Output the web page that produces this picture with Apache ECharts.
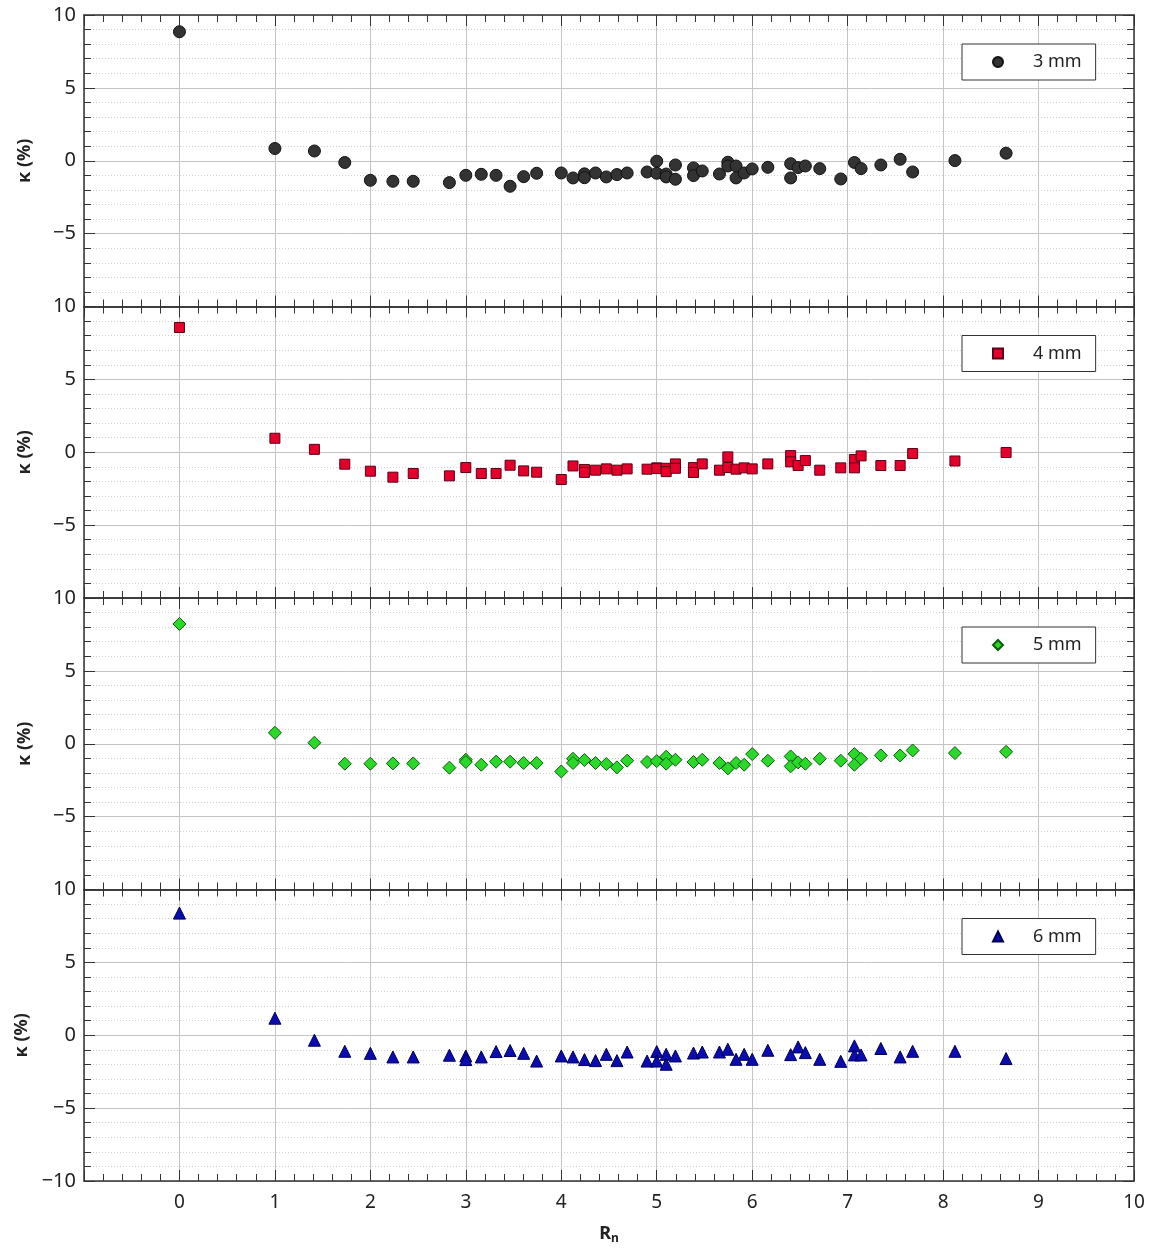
<!DOCTYPE html>
<html>
<head>
<meta charset="utf-8">
<script src="https://cdn.jsdelivr.net/npm/echarts@6/dist/echarts.min.js"></script>
<style>html,body{margin:0;background:#fff}#chart{width:1154px;height:1248px}</style>
</head>
<body>
<div id="chart"></div>
<script>
// κ (%) against R_n, one panel per size
const names = ['3 mm', '4 mm', '5 mm', '6 mm'];

const k3mm = [[0,8.85],[1,0.84],[1.414,0.67],[1.732,-0.12],[2,-1.34],[2.236,-1.41],[2.449,-1.41],[2.828,-1.5],[3,-1.0],[3.162,-0.93],[3.317,-1.0],[3.464,-1.75],[3.606,-1.09],[3.742,-0.86],[4,-0.84],[4.123,-1.18],[4.243,-0.9],[4.243,-1.16],[4.359,-0.84],[4.472,-1.11],[4.583,-0.95],[4.69,-0.84],[4.899,-0.77],[5,-0.03],[5,-0.86],[5.099,-0.91],[5.099,-1.11],[5.196,-0.29],[5.196,-1.27],[5.385,-0.49],[5.385,-1.02],[5.477,-0.7],[5.657,-0.91],[5.745,-0.1],[5.745,-0.36],[5.831,-0.36],[5.831,-1.18],[5.916,-0.84],[6,-0.56],[6.164,-0.45],[6.403,-0.2],[6.403,-1.18],[6.481,-0.47],[6.557,-0.36],[6.708,-0.54],[6.928,-1.25],[7.071,-0.12],[7.141,-0.54],[7.348,-0.29],[7.55,0.1],[7.681,-0.77],[8.124,0.01],[8.66,0.52]];

const k4mm = [[0,8.56],[1,0.96],[1.414,0.2],[1.732,-0.82],[2,-1.3],[2.236,-1.71],[2.449,-1.46],[2.828,-1.62],[3,-1.05],[3.162,-1.46],[3.317,-1.46],[3.464,-0.89],[3.606,-1.28],[3.742,-1.37],[4,-1.87],[4.123,-0.94],[4.243,-1.18],[4.243,-1.38],[4.359,-1.23],[4.472,-1.14],[4.583,-1.23],[4.69,-1.14],[4.899,-1.16],[5,-1.07],[5,-1.12],[5.099,-1.1],[5.099,-1.33],[5.196,-0.8],[5.196,-1.1],[5.385,-1.05],[5.385,-1.39],[5.477,-0.8],[5.657,-1.23],[5.745,-0.32],[5.745,-1.05],[5.831,-1.16],[5.916,-1.07],[6,-1.14],[6.164,-0.8],[6.403,-0.23],[6.403,-0.66],[6.481,-0.91],[6.557,-0.57],[6.708,-1.23],[6.928,-1.07],[7.071,-0.5],[7.071,-1.07],[7.141,-0.25],[7.348,-0.91],[7.55,-0.91],[7.681,-0.09],[8.124,-0.6],[8.66,-0.02]];

const k5mm = [[0,8.22],[1,0.75],[1.414,0.07],[1.732,-1.37],[2,-1.37],[2.236,-1.35],[2.449,-1.35],[2.828,-1.64],[3,-1.1],[3,-1.25],[3.162,-1.44],[3.317,-1.23],[3.464,-1.23],[3.606,-1.32],[3.742,-1.32],[4,-1.9],[4.123,-1.03],[4.123,-1.32],[4.243,-1.12],[4.359,-1.32],[4.472,-1.39],[4.583,-1.62],[4.69,-1.16],[4.899,-1.25],[5,-1.19],[5.099,-0.89],[5.099,-1.37],[5.196,-1.1],[5.385,-1.25],[5.477,-1.1],[5.657,-1.32],[5.745,-1.69],[5.831,-1.32],[5.916,-1.44],[6,-0.71],[6.164,-1.16],[6.403,-0.87],[6.403,-1.55],[6.481,-1.28],[6.557,-1.37],[6.708,-1.03],[6.928,-1.16],[7.071,-0.71],[7.071,-1.44],[7.141,-1.03],[7.348,-0.8],[7.55,-0.8],[7.681,-0.46],[8.124,-0.64],[8.66,-0.55]];

const k6mm = [[0,8.38],[1,1.17],[1.414,-0.34],[1.732,-1.1],[2,-1.24],[2.236,-1.49],[2.449,-1.49],[2.828,-1.37],[3,-1.42],[3,-1.67],[3.162,-1.49],[3.317,-1.12],[3.464,-1.05],[3.606,-1.24],[3.742,-1.77],[4,-1.42],[4.123,-1.49],[4.243,-1.67],[4.359,-1.74],[4.472,-1.31],[4.583,-1.74],[4.69,-1.15],[4.899,-1.77],[5,-1.12],[5,-1.77],[5.099,-1.31],[5.099,-1.99],[5.196,-1.42],[5.385,-1.22],[5.477,-1.15],[5.657,-1.15],[5.745,-0.96],[5.831,-1.65],[5.916,-1.31],[6,-1.65],[6.164,-1.03],[6.403,-1.33],[6.481,-0.8],[6.557,-1.19],[6.708,-1.65],[6.928,-1.79],[7.071,-0.73],[7.071,-1.35],[7.141,-1.35],[7.348,-0.91],[7.55,-1.49],[7.681,-1.1],[8.124,-1.1],[8.66,-1.6]];

const allData = [k3mm, k4mm, k5mm, k6mm];
const symbols = ['circle', 'rect', 'diamond', 'triangle'];
const sizes   = [12, 10, 13, 12];
const colors  = ['#333333', '#e4002b', '#2ad82a', '#0b0bb2'];
const borders = ['#111111', '#5a0018', '#0b5e0b', '#00004d'];

const tops = [15, 306.5, 598, 889.5];
const panelH = 291.5;
const font = 'Noto Sans';
const axisCol = '#333';

function fmt(v) { return v < 0 ? '\u2212' + Math.abs(v) : String(v); }

let grids = [], xAxes = [], yAxes = [], series = [], legends = [];

tops.forEach(function (t, i) {
    const last = i === tops.length - 1;
    grids.push({left: 84, right: 20, top: t, height: panelH, outerBoundsMode: 'none'});

    const tickCommon = {
        axisLine: {show: true, onZero: false, lineStyle: {color: axisCol, width: 1.5}},
        axisTick: {show: true, inside: true, length: 11, lineStyle: {color: axisCol}},
        minorTick: {show: true, splitNumber: 5, length: 7, lineStyle: {color: axisCol}}
    };

    // x bottom
    xAxes.push(Object.assign({
        type: 'value', gridIndex: i, position: 'bottom', min: -1, max: 10, interval: 1,
        axisLabel: {show: last, showMinLabel: false, fontFamily: font, fontSize: 19, color: '#222', margin: 12},
        splitLine: {show: true, lineStyle: {color: '#c4c4c4', width: 1}},
        minorSplitLine: {show: false},
        name: last ? '{r|R}{s|n}' : '',
        nameLocation: 'middle', nameGap: 42,
        nameTextStyle: {rich: {
            r: {fontFamily: font, fontSize: 18, fontWeight: 'bold', color: '#222'},
            s: {fontFamily: font, fontSize: 12, fontWeight: 'bold', color: '#222', verticalAlign: 'bottom', padding: [10, 0, 0, 0]}
        }}
    }, tickCommon));
    // x top
    xAxes.push(Object.assign({
        type: 'value', gridIndex: i, position: 'top', min: -1, max: 10, interval: 1,
        axisLabel: {show: false}, splitLine: {show: false}
    }, tickCommon));

    // y left
    yAxes.push(Object.assign({
        type: 'value', gridIndex: i, position: 'left', min: -10, max: 10, interval: 5,
        axisLabel: {show: true, showMinLabel: last, formatter: fmt, fontFamily: font, fontSize: 20, color: '#222', margin: 8},
        splitLine: {show: true, lineStyle: {color: '#c4c4c4', width: 1}},
        minorSplitLine: {show: true, lineStyle: {color: '#cfcfcf', width: 1, type: [1, 2]}},
        name: '\u03ba (%)', nameLocation: 'middle', nameGap: 50,
        nameTextStyle: {fontFamily: font, fontSize: 18, fontWeight: 'bold', color: '#222'}
    }, tickCommon));
    // y right
    yAxes.push(Object.assign({
        type: 'value', gridIndex: i, position: 'right', min: -10, max: 10, interval: 5,
        axisLabel: {show: false}, splitLine: {show: false}
    }, tickCommon));

    series.push({
        name: names[i], type: 'scatter', xAxisIndex: 2 * i, yAxisIndex: 2 * i,
        data: allData[i], symbol: symbols[i], symbolSize: sizes[i],
        itemStyle: {color: colors[i], borderColor: borders[i], borderWidth: 1, opacity: 1},
        z: 5
    });

    legends.push({
        data: [names[i]], left: 962, top: t + 29, orient: 'horizontal',
        backgroundColor: '#fff', borderColor: '#333', borderWidth: 1,
        padding: [9, 14, 9, 30], itemWidth: 10, itemHeight: 10,
        textStyle: {fontFamily: font, fontSize: 18, color: '#222', padding: [0, 0, 0, 25]}
    });
});

let option = {
    backgroundColor: '#fff',
    animation: false,
    grid: grids,
    xAxis: xAxes,
    yAxis: yAxes,
    legend: legends,
    series: series
};

var chart = echarts.init(document.getElementById('chart'));
chart.setOption(option);
window.onresize = function () { chart.resize(); };
</script>
</body>
</html>
